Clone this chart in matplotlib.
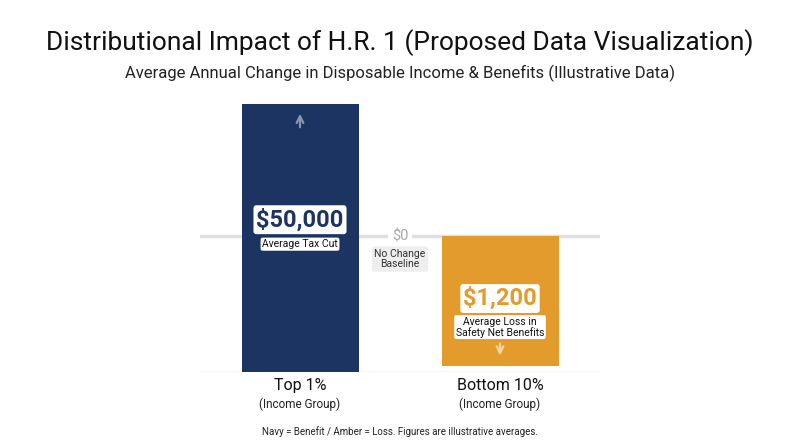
import matplotlib
matplotlib.use("Agg")
import matplotlib.pyplot as plt
from matplotlib.patches import FancyBboxPatch

plt.rcParams['font.family'] = ['Roboto', 'DejaVu Sans']

categories = ["Top 1%", "Bottom 10%"]
sublabels = ["(Income Group)", "(Income Group)"]
values = [50000, -1200]
value_labels = ["$50,000", "$1,200"]
descs = ["Average Tax Cut", "Average Loss in\nSafety Net Benefits"]
# illustrative (not to scale) bar extents, in relative display units
bar_top = [0.97, 0.0]
bar_bottom = [-1.0, -0.956]
colors = ["#1b3461", "#e39b2c"]

fig = plt.figure(figsize=(8, 4.47), dpi=100)
fig.text(0.5, 0.905, "Distributional Impact of H.R. 1 (Proposed Data Visualization)",
         ha='center', va='center', fontsize=19, color='#111111')
fig.text(0.5, 0.835, "Average Annual Change in Disposable Income & Benefits (Illustrative Data)",
         ha='center', va='center', fontsize=12, color='#222222')
fig.text(0.5, 0.035, "Navy = Benefit / Amber = Loss. Figures are illustrative averages.",
         ha='center', va='center', fontsize=7, color='#222222')

ax = fig.add_axes([0.25, 0.168, 0.5, 0.608])
ax.set_xlim(-0.5, 1.5)
ax.set_ylim(-1, 1)
ax.axis('off')
ax.axhline(0, color='#e0e0e0', lw=2.5, zorder=0)
ax.axhline(-1, color='#dddddd', lw=1, zorder=0)

for i in range(2):
    ax.bar(i, bar_top[i] - bar_bottom[i], bottom=bar_bottom[i], width=0.585,
           color=colors[i], zorder=2)
    ax.text(i, -1.1, categories[i], ha='center', va='center', fontsize=11.5, color='#111111')
    ax.text(i, -1.24, sublabels[i], ha='center', va='center', fontsize=8.5, color='#222222')

box = dict(boxstyle='round,pad=0.15,rounding_size=0.2', fc='white', ec='none')
# Top 1%
ax.text(0, 0.12, value_labels[0], ha='center', va='center', fontsize=17, fontweight='bold',
        color=colors[0], bbox=dict(boxstyle='round,pad=0.12', fc='white', ec='none'), zorder=3)
ax.text(0, -0.06, descs[0], ha='center', va='center', fontsize=7.5, color='#111111',
        bbox=box, zorder=3)
ax.annotate("", xy=(0, 0.92), xytext=(0, 0.78),
            arrowprops=dict(arrowstyle='->', color='#8a97ad', lw=1.6, mutation_scale=12), zorder=3)
# Bottom 10%
ax.text(1, -0.46, value_labels[1], ha='center', va='center', fontsize=17, fontweight='bold',
        color=colors[1], bbox=dict(boxstyle='round,pad=0.12', fc='white', ec='none'), zorder=3)
ax.text(1, -0.67, descs[1], ha='center', va='center', fontsize=7.5, color='#111111',
        linespacing=1.0, bbox=box, zorder=3)
ax.annotate("", xy=(1, -0.9), xytext=(1, -0.77),
            arrowprops=dict(arrowstyle='->', color='#f6d6a2', lw=1.6, mutation_scale=12), zorder=3)
# baseline label
ax.text(0.5, 0.0, "$0", ha='center', va='center', fontsize=10.5, color='#aaaaaa',
        bbox=dict(boxstyle='square,pad=0.25', fc='white', ec='none'), zorder=3)
ax.text(0.5, -0.17, "No Change\nBaseline", ha='center', va='center', fontsize=7.5,
        color='#333333', linespacing=1.0,
        bbox=dict(boxstyle='round,pad=0.25', fc='#eeeeee', ec='none'), zorder=3)

fig.savefig("out.png", dpi=100, facecolor='white')
